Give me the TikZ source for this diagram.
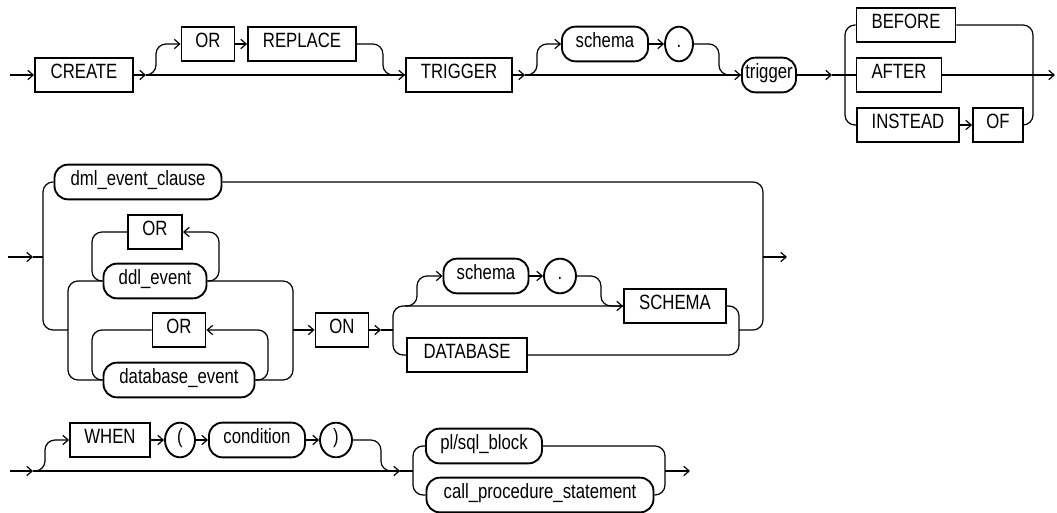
\documentclass[tikz,border=0pt]{standalone}
\usepackage{fontspec}
\setmainfont[FakeStretch=0.81]{Liberation Sans}
\usetikzlibrary{arrows.meta,shapes.geometric}

\begin{document}
\begin{tikzpicture}[x=0.75pt,y=-0.75pt,
  kw/.style={draw,line width=1.4pt,minimum height=26pt,inner sep=0pt,
    text height=0.75em,text depth=0.25em,font=\fontsize{15.5}{17}\selectfont},
  nt/.style={kw,rounded corners=10pt},
  ch/.style={kw,ellipse},
  bw/.style={minimum width=#1*0.75pt},
  ln/.style={line width=0.9pt,rounded corners=7.5pt},
  ar/.style={ln,-{Straight Barb[length=4pt,width=7pt]}}]

  \useasboundingbox (0,0) rectangle (1057,513);

  % CREATE [OR REPLACE] TRIGGER [schema .] trigger BEFORE|AFTER|INSTEAD OF
  \node[kw,bw=98]  (create)  at (84,75)   {CREATE};
  \node[kw,bw=53]  (orkw)    at (208,44)  {OR};
  \node[kw,bw=108] (replace) at (302,44)  {REPLACE};
  \node[kw,bw=106] (trigger) at (459,75)  {TRIGGER};
  \node[nt,bw=86]  (schema)  at (605,44)  {schema};
  \node[ch,bw=28]  (dot)     at (679,44)  {.};
  \node[nt,bw=54]  (trig)    at (769,75)  {trigger};
  \node[kw,bw=99]  (before)  at (906,25)  {BEFORE};
  \node[kw,bw=85]  (after)   at (899,75)  {AFTER};
  \node[kw,bw=102] (instead) at (908,125) {INSTEAD};
  \node[kw,bw=50]  (of)      at (998,125) {OF};

  \coordinate (s1) at (10,75);
  \coordinate (j1) at (146,75);
  \coordinate (j2) at (525,75);
  \coordinate (j3) at (832,75);
  \coordinate (b1) at (845,75);
  \coordinate (e1) at (1033,75);
  \coordinate (x1) at (1055,75);

  \draw[ar] (s1) -- (create.west);
  \draw[ar] (create.east) -- (j1);
  \draw[ar] (j1) -- ++(10,0) |- (orkw.west);
  \draw[ar] (orkw.east) -- (replace.west);
  \draw[ln] (replace.east) -- ++(26,0) |- (trigger.west);
  \draw[ar] (j1) -- (trigger.west);
  \draw[ar] (trigger.east) -- (j2);
  \draw[ar] (j2) -- ++(12,0) |- (schema.west);
  \draw[ar] (schema.east) -- (dot.west);
  \draw[ln] (dot.east) -- ++(25,0) |- (trig.west);
  \draw[ar] (j2) -- (trig.west);
  \draw[ar] (trig.east) -- (j3);
  \draw[ln] (j3) -- (after.west);
  \draw[ln] (before.west) -| (b1) |- (instead.west);
  \draw[ar] (instead.east) -- (of.west);
  \draw[ln] (before.east) -| (e1) |- (of.east);
  \draw[ar] (after.east) -- (x1);

  % event clause ON schema/database
  \node[nt,bw=167] (dml)      at (138,182) {dml\_event\_clause};
  \node[kw,bw=54]  (or1)      at (155,232) {OR};
  \node[nt,bw=103] (ddl)      at (155,281) {ddl\_event};
  \node[kw,bw=53]  (or2)      at (179,330) {OR};
  \node[nt,bw=151] (dbev)     at (179,380) {database\_event};
  \node[kw,bw=53]  (on)       at (342,330) {ON};
  \node[nt,bw=85]  (schemb)   at (486,276) {schema};
  \node[ch,bw=32]  (dotb)     at (560,276) {.};
  \node[kw,bw=102] (schemakw) at (675,306) {SCHEMA};
  \node[kw,bw=120] (database) at (467,355) {DATABASE};

  \coordinate (s2) at (8,257);
  \coordinate (a2) at (33,257);
  \coordinate (b2) at (43,257);
  \coordinate (g2) at (68,330);
  \coordinate (l1) at (92,281);
  \coordinate (r1) at (219,232);
  \coordinate (l2) at (92,380);
  \coordinate (r2) at (268,330);
  \coordinate (m2) at (293,330);
  \coordinate (a3) at (381,330);
  \coordinate (v2) at (393,330);
  \coordinate (c2) at (405,306);
  \coordinate (v3) at (739,330);
  \coordinate (e2) at (763,257);
  \coordinate (x2) at (787,257);

  \draw[ar] (s2) -- (a2);
  \draw[ln] (a2) -- (b2);
  \draw[ln] (dml.west) -| (b2) |- (g2);
  \draw[ln] (ddl.west) -| (g2) |- (dbev.west);
  \draw[ln] (or1.west) -| (l1) -- (ddl.west);
  \draw[ar] (ddl.east) -| (r1) -- (or1.east);
  \draw[ln] (or2.west) -| (l2) -- (dbev.west);
  \draw[ar] (dbev.east) -| (r2) -- (or2.east);
  \draw[ln] (ddl.east) -| (m2) |- (dbev.east);
  \draw[ar] (m2) -- (on.west);
  \draw[ar] (on.east) -- (a3);
  \draw[ln] (a3) -- (v2);
  \draw[ar] (v2) |- (schemakw.west);
  \draw[ln] (v2) |- (database.west);
  \draw[ar] (c2) -- ++(12,0) |- (schemb.west);
  \draw[ar] (schemb.east) -- (dotb.west);
  \draw[ln] (dotb.east) -- ++(24,0) |- (schemakw.west);
  \draw[ln] (schemakw.east) -| (v3) |- (database.east);
  \draw[ln] (dml.east) -| (e2);
  \draw[ln] (v3) -| (e2);
  \draw[ar] (e2) -- (x2);

  % [WHEN ( condition )] body
  \node[kw,bw=80]  (when)  at (110,440) {WHEN};
  \node[ch,bw=30]  (lp)    at (180,440) {(};
  \node[nt,bw=96]  (cond)  at (257,440) {condition};
  \node[ch,bw=32]  (rp)    at (336,440) {)};
  \node[nt,bw=116] (plsql) at (484,446) {pl/sql\_block};
  \node[nt,bw=227] (callp) at (540,495) {call\_procedure\_statement};

  \coordinate (s3) at (10,471);
  \coordinate (a4) at (33,471);
  \coordinate (a5) at (400,471);
  \coordinate (v5) at (413,471);
  \coordinate (v6) at (665,471);
  \coordinate (x3) at (690,471);

  \draw[ar] (s3) -- (a4);
  \draw[ar] (a4) -- ++(12,0) |- (when.west);
  \draw[ar] (when.east) -- (lp.west);
  \draw[ar] (lp.east) -- (cond.west);
  \draw[ar] (cond.east) -- (rp.west);
  \draw[ln] (rp.east) -- ++(28,0) |- (a5);
  \draw[ar] (a4) -- (a5);
  \draw[ln] (a5) -- (v5);
  \draw[ln] (plsql.west) -| (v5) |- (callp.west);
  \draw[ln] (plsql.east) -| (v6) |- (callp.east);
  \draw[ar] (v6) -- (x3);
\end{tikzpicture}
\end{document}
